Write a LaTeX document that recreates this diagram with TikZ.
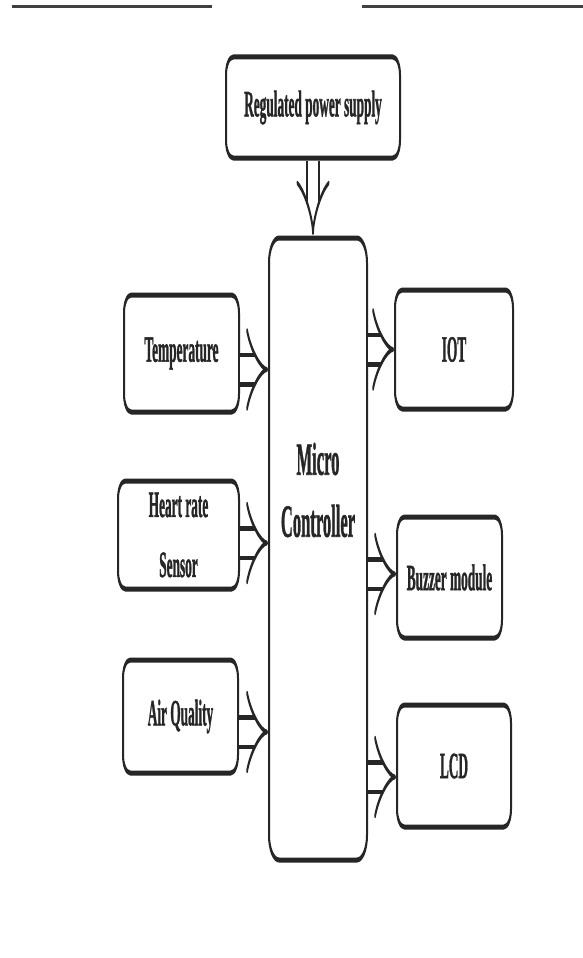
\documentclass[tikz,border=0pt]{standalone}
\usepackage{fontspec}
\setmainfont{Liberation Serif}[FakeStretch=0.9, BoldFeatures={FakeBold=1.5}]
\usetikzlibrary{arrows.meta}
\begin{document}
\begin{tikzpicture}[x=1pt,y=-1pt]
\useasboundingbox[fill=white] (0,0) rectangle (583,958);
\draw[line width=2.5pt, black!75] (12,6.5) -- (212,6.5);
\draw[line width=2.5pt, black!75] (362,6.5) -- (583,6.5);
\begin{scope}[transform canvas={xscale=0.4}, x=2.5pt, y=-1pt,
  box/.style={draw=black!85, line width=5pt, rounded corners=18pt, fill=white,
    font=\fontsize{37}{60}\selectfont\bfseries, text=black!85, align=center, inner sep=0pt},
  dbl/.style={draw=black!85, line width=4.5pt, double=white, double distance=25pt,
    -{Implies[length=25pt, width=75pt]}}]
\node[box, minimum width=435pt, minimum height=101pt] (rps) at (313,107.5) {Regulated power supply};
\node[box, minimum width=245pt, minimum height=622pt, rounded corners=25pt] (mc) at (318,549) {};
\node[font=\fontsize{46}{62}\selectfont\bfseries, text=black!85, align=center] (mclabel) at (318,490) {Micro\\Controller};
\node[box, minimum width=287.5pt, minimum height=117pt] (temp) at (181.5,353.5) {Temperature};
\node[box, minimum width=302.5pt, minimum height=108pt] (heart) at (178.5,535) {Heart rate\\Sensor};
\node[box, minimum width=287.5pt, minimum height=113pt] (air) at (180.5,716.5) {Air Quality};
\node[box, minimum width=295pt, minimum height=119pt] (iot) at (454,349.5) {IOT};
\node[box, minimum width=262.5pt, minimum height=121pt] (buzz) at (449.5,577.5) {Buzzer module};
\node[box, minimum width=285pt, minimum height=122pt] (lcd) at (454,766) {LCD};
\draw[dbl, -{Implies[length=34pt, width=75pt]}] (rps.south) -- (rps.south |- mc.north);
\coordinate (t1) at ([yshift=-16pt]temp.east);
\coordinate (h1) at ([yshift=-8pt]heart.east);
\coordinate (a1) at ([yshift=-15.5pt]air.east);
\coordinate (i1) at (iot.west);
\coordinate (b1) at ([yshift=3.5pt]buzz.west);
\coordinate (l1) at ([yshift=-11pt]lcd.west);
\draw[dbl] (t1) -- (t1 -| mc.west);
\draw[dbl] (h1) -- (h1 -| mc.west);
\draw[dbl] (a1) -- (a1 -| mc.west);
\draw[dbl] (i1 -| mc.east) -- (i1);
\draw[dbl] (b1 -| mc.east) -- (b1);
\draw[dbl] (l1 -| mc.east) -- (l1);
\end{scope}
\end{tikzpicture}
\end{document}
